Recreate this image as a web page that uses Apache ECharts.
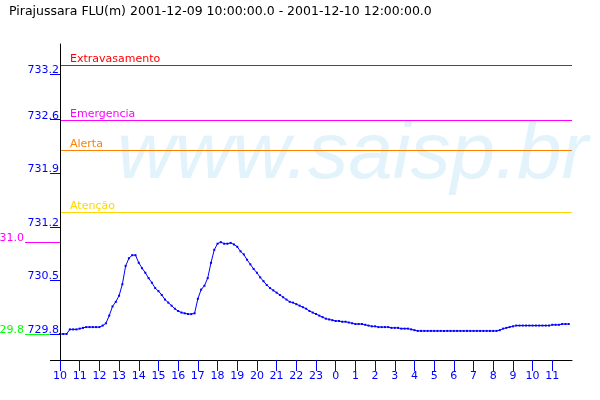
<!DOCTYPE html>
<html><head><meta charset="utf-8">
<script src="https://cdn.jsdelivr.net/npm/echarts@6/dist/echarts.min.js"></script>
<style>html,body{margin:0;padding:0;background:#fff}#c{width:600px;height:400px}</style>
</head><body><div id="c"></div>
<script>
const titleText = 'Pirajussara FLU(m) 2001-12-09 10:00:00.0 - 2001-12-10 12:00:00.0';
const startTime = '2001-12-09T10:00:00Z';
const endTime = '2001-12-10T12:00:00Z';
const stepMinutes = 10;
const levels = [
  729.80,729.80,729.80,729.86,729.86,729.86,729.87,729.88,729.89,729.89,
  729.89,729.89,729.89,729.91,729.94,730.04,730.16,730.22,730.30,730.45,
  730.69,730.79,730.83,730.83,730.73,730.66,730.60,730.53,730.47,730.40,
  730.36,730.31,730.25,730.21,730.17,730.13,730.10,730.08,730.07,730.06,
  730.06,730.07,730.26,730.38,730.43,730.53,730.73,730.90,730.98,731.00,
  730.98,730.98,730.99,730.97,730.94,730.88,730.84,730.77,730.71,730.65,
  730.60,730.54,730.49,730.44,730.40,730.37,730.34,730.31,730.28,730.25,
  730.22,730.21,730.19,730.17,730.15,730.13,730.10,730.08,730.06,730.04,
  730.02,730.00,729.99,729.98,729.97,729.97,729.96,729.96,729.95,729.94,
  729.93,729.93,729.93,729.92,729.91,729.90,729.90,729.89,729.89,729.89,
  729.89,729.88,729.88,729.88,729.87,729.87,729.87,729.86,729.85,729.84,
  729.84,729.84,729.84,729.84,729.84,729.84,729.84,729.84,729.84,729.84,
  729.84,729.84,729.84,729.84,729.84,729.84,729.84,729.84,729.84,729.84,
  729.84,729.84,729.84,729.84,729.85,729.87,729.88,729.89,729.90,729.91,
  729.91,729.91,729.91,729.91,729.91,729.91,729.91,729.91,729.91,729.91,
  729.92,729.92,729.92,729.93,729.93,729.93
];
const yTickValues = [729.8, 730.5, 731.2, 731.9, 732.6, 733.2];
const xTickLabels = ['10','11','12','13','14','15','16','17','18','19','20','21','22','23','0','1','2','3','4','5','6','7','8','9','10','11'];
const thresholdNames = ['Extravasamento', 'Emergencia', 'Alerta', 'Atenção'];
const thresholdValues = [733.31, 732.59, 732.198, 731.388];
const watermarkText = 'www.saisp.br';

const thresholdColors = ['#ff0000', '#ff00ff', '#ff8000', '#ffd700'];
const BLUE = '#0000ff';
const t0 = Date.parse(startTime);
const t1 = Date.parse(endTime);
const HOUR = 3600000;
const seriesData = levels.map((v, i) => [t0 + i * stepMinutes * 60000, v]);
const xTickValues = xTickLabels.map((_, i) => t0 + i * HOUR);
const maxV = Math.max(...levels);
const minV = Math.min(...levels);
const Y_MIN = 729.46, Y_MAX = 733.59;
const FONT = 'DejaVu Sans';

function markerAxis(value, color) {
  return {
    type: 'value', position: 'left', offset: 0, min: Y_MIN, max: Y_MAX,
    axisLine: { show: false }, splitLine: { show: false },
    axisTick: { show: true, customValues: [value], length: 35, lineStyle: { color: color, width: 1 } },
    axisLabel: { show: true, customValues: [value], margin: 36, color: color, fontSize: 11, fontFamily: FONT,
      verticalAlign: 'bottom', lineHeight: 8, formatter: v => v.toFixed(1) }
  };
}

const chart = echarts.init(document.getElementById('c'), null, { renderer: 'canvas' });
chart.setOption({
  animation: false,
  backgroundColor: '#ffffff',
  title: { text: titleText, left: 4, top: 0, textStyle: { color: '#000', fontSize: 12.5, fontWeight: 'normal', fontFamily: FONT } },
  grid: { left: 60, right: 28, top: 44, bottom: 40, containLabel: false, outerBoundsMode: 'none' },
  graphic: [
    { type: 'text', z: -10, x: 117, y: 156, silent: true,
      style: { text: watermarkText, font: 'italic 80px "Liberation Sans"', fill: '#e2f3fb', verticalAlign: 'middle' } },
    { type: 'line', z: 10, silent: true, shape: { x1: 50, y1: 360.5, x2: 60, y2: 360.5 }, style: { stroke: '#000', lineWidth: 1 } }
  ],
  xAxis: {
    type: 'value', min: t0, max: t1,
    axisLine: { show: true, onZero: false, lineStyle: { color: '#000', width: 1 } },
    axisTick: { show: true, customValues: xTickValues, length: 11, lineStyle: { color: BLUE, width: 1 } },
    axisLabel: { show: true, customValues: xTickValues, margin: 11, color: BLUE, fontSize: 11, fontFamily: FONT,
      formatter: v => xTickLabels[Math.round((v - t0) / HOUR)] },
    splitLine: { show: false }
  },
  yAxis: [
    markerAxis(maxV, '#ff00ff'),
    markerAxis(minV, '#00ff00'),
    {
      type: 'value', position: 'left', min: Y_MIN, max: Y_MAX, z: 5,
      axisLine: { show: true, onZero: false, lineStyle: { color: '#000', width: 1 } },
      axisTick: { show: true, customValues: yTickValues, length: 10, lineStyle: { color: BLUE, width: 1 } },
      axisLabel: { show: true, customValues: yTickValues, margin: 1, color: BLUE, fontSize: 11, fontFamily: FONT,
        verticalAlign: 'bottom', lineHeight: 8, formatter: v => v.toFixed(1) },
      splitLine: { show: false }
    }
  ],
  series: [{
    type: 'line', yAxisIndex: 2, data: seriesData,
    showSymbol: true, showAllSymbol: true, symbol: 'rect', symbolSize: 2,
    lineStyle: { color: BLUE, width: 1 }, itemStyle: { color: BLUE },
    markLine: {
      silent: true, symbol: 'none', animation: false,
      data: thresholdNames.map((n, i) => ({
        name: n, yAxis: thresholdValues[i],
        lineStyle: { color: thresholdColors[i], width: 1, type: 'solid', opacity: 1 },
        label: { show: true, position: 'insideStartTop', distance: [10, 1], formatter: n,
          color: thresholdColors[i], fontSize: 11, fontFamily: FONT }
      }))
    }
  }]
});
</script>
</body></html>
